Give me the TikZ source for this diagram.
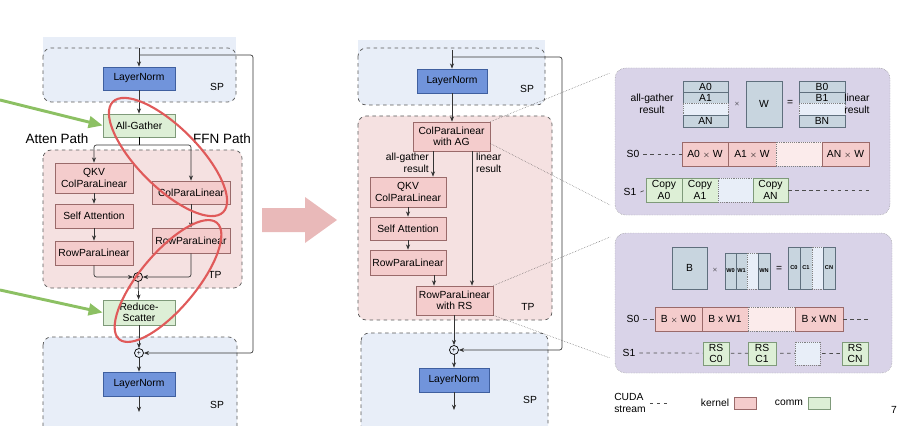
\documentclass[tikz,border=0pt]{standalone}
\usepackage{fontspec}
\setmainfont{Liberation Sans}
\usetikzlibrary{arrows.meta,positioning}
\newcommand{\px}{0.03cm}
\definecolor{lnfill}{HTML}{7194DB}
\definecolor{lnline}{HTML}{3F5F9F}
\definecolor{spfill}{HTML}{E8EEF8}
\definecolor{tpfill}{HTML}{F5E1E1}
\definecolor{kfill}{HTML}{F4CCCC}
\definecolor{kline}{HTML}{9A6A6A}
\definecolor{cfill}{HTML}{DDEFD6}
\definecolor{cline}{HTML}{7F9A7A}
\definecolor{mfill}{HTML}{C8D5DF}
\definecolor{mline}{HTML}{5F6F7D}
\definecolor{pfill}{HTML}{D9D3E8}
\definecolor{redring}{HTML}{E05A5A}
\definecolor{greenarr}{HTML}{8CC063}
\definecolor{bigarr}{HTML}{E9B9B9}
\tikzset{
  box/.style 2 args={draw, line width=0.6pt, inner sep=0pt, align=center, minimum width=#1*\px, minimum height=#2*\px},
  ln/.style 2 args={box={#1}{#2}, fill=lnfill, draw=lnline},
  kern/.style 2 args={box={#1}{#2}, fill=kfill, draw=kline},
  comm/.style 2 args={box={#1}{#2}, fill=cfill, draw=cline},
  mat/.style 2 args={box={#1}{#2}, fill=mfill, draw=mline},
  kgap/.style 2 args={box={#1}{#2}, fill=kfill!40, draw=gray, densely dotted},
  cgap/.style 2 args={box={#1}{#2}, fill=spfill, draw=gray, densely dotted},
  plus/.style={draw, line width=0.6pt, circle, inner sep=0pt, minimum size=9*\px, font=\fontsize{6}{6}\selectfont},
  region/.style={draw=gray!70!black, line width=0.6pt, dashed, rounded corners=7pt},
  panel/.style={draw=gray, densely dotted, fill=pfill, rounded corners=9pt, minimum width=#1*\px},
  flow/.style={-{Stealth[length=4.5pt,width=3.5pt]}, line width=0.6pt, draw=black!80},
  stream/.style={dashed, line width=0.6pt, draw=black!70},
  ring/.style={draw=redring, line width=1.8pt},
  tiny/.style={font=\fontsize{4.8}{5}\selectfont\bfseries}
}
\begin{document}
\begin{tikzpicture}[x=\px, y=-\px, font=\fontsize{8.8}{9.8}\selectfont]
  \useasboundingbox (0,0) rectangle (898,426);

  % left: regions
  \fill[spfill] (43,37) rectangle (236,96);
  \filldraw[region, fill=spfill] (43,48) rectangle (236,102);
  \filldraw[region, fill=tpfill] (43,150) rectangle (242,288);
  \filldraw[region, fill=spfill] (43,337) rectangle (237,440);
  \node at (217,87) {SP};
  \node at (215,275) {TP};
  \node at (217,405) {SP};

  % left: blocks
  \node[ln={72}{23}] (ln1) at (139,78.5) {LayerNorm};
  \node[comm={72}{23}] (ag) at (139,125.5) {All-Gather};
  \node[kern={78}{30}] (qkv) at (94,178) {QKV\\ColParaLinear};
  \node[kern={78}{24}] (sa) at (94,216) {Self Attention};
  \node[kern={78}{24}] (rpl1) at (94,253) {RowParaLinear};
  \node[kern={78}{23}] (cpl) at (191,192.5) {ColParaLinear};
  \node[kern={78}{25}] (rpl2) at (191,240.5) {RowParaLinear};
  \node[plus, fill=kfill] (p1) at (138,277) {+};
  \node[comm={72}{25}] (rs) at (139,312.5) {Reduce-\\Scatter};
  \node[plus, fill=spfill] (p2) at (139,353) {+};
  \node[ln={72}{24}] (ln2) at (139,384) {LayerNorm};
  \node[font=\fontsize{11.5}{12}\selectfont] (atten) at (57,139) {Atten Path};
  \node[font=\fontsize{11.5}{12}\selectfont] (ffn) at (222,139) {FFN Path};
  \coordinate (in1) at (139,48);
  \coordinate (res1) at (139,55);
  \coordinate (side1) at (253,200);
  \coordinate (br) at (139,145);
  \coordinate (out1) at (139,412);

  % left: connectors
  \draw[flow] (in1) -- (ln1);
  \draw[flow, rounded corners=2] (res1) -| (side1) |- (p2.east);
  \draw[flow] (ln1) -- (ag);
  \draw[line width=0.6pt] (ag) -- (br);
  \draw[flow, rounded corners=2] (br) -| (qkv.north);
  \draw[flow, rounded corners=2] (br) -| (cpl.north);
  \draw[flow] (qkv) -- (sa);
  \draw[flow] (sa) -- (rpl1);
  \draw[flow] (cpl) -- (rpl2);
  \draw[flow, rounded corners=2] (rpl1.south) |- (p1.west);
  \draw[flow, rounded corners=2] (rpl2.south) |- (p1.east);
  \draw[flow] (p1) -- (rs);
  \draw[flow] (rs) -- (p2);
  \draw[flow] (p2) -- (ln2);
  \draw[flow] (ln2) -- (out1);

  % left: highlights
  \draw[ring, rotate around={-45:(168,157)}] (168,157) ellipse (78 and 30);
  \draw[ring, rotate around={50:(168,281)}] (168,281) ellipse (76 and 28);
  \coordinate (g1) at (0,100);
  \coordinate (g2) at (0,290);
  \draw[greenarr, line width=2.5pt, -{Triangle[length=12pt,width=10pt]}] (g1) -- (ag.west);
  \draw[greenarr, line width=2.5pt, -{Triangle[length=12pt,width=10pt]}] (g2) -- (rs.west);

  % big arrow
  \fill[bigarr] (262,208) -- (305,208) -- (305,197) -- (337,220) -- (305,243) -- (305,232) -- (262,232) -- cycle;

  % middle: regions
  \fill[spfill] (358,40) rectangle (545,96);
  \filldraw[region, fill=spfill] (358,48) rectangle (545,105);
  \filldraw[region, fill=tpfill] (358,116) rectangle (552,320);
  \filldraw[region, fill=spfill] (361,333) rectangle (548,440);
  \node at (527,89) {SP};
  \node at (528,307) {TP};
  \node at (530,400) {SP};

  % middle: blocks
  \node[ln={70}{24}] (ln3) at (452,81) {LayerNorm};
  \node[kern={77}{29}] (cag) at (451.5,136.5) {ColParaLinear\\with AG};
  \node[kern={76}{30}] (qkv2) at (408,192) {QKV\\ColParaLinear};
  \node[kern={76}{23}] (sa2) at (408,228.5) {Self Attention};
  \node[kern={76}{25}] (rpl3) at (408,262.5) {RowParaLinear};
  \node[kern={77}{29}] (rrs) at (454.5,300.5) {RowParaLinear\\with RS};
  \node[plus, fill=spfill] (p3) at (454,350) {+};
  \node[ln={70}{24}] (ln4) at (454,380) {LayerNorm};
  \node[align=right, anchor=east] (agres) at (433,163) {all-gather\\result};
  \node[align=left, anchor=west] (linres) at (472,163) {linear\\result};
  \coordinate (in2) at (452,50);
  \coordinate (res2) at (452,57);
  \coordinate (side2) at (562,200);
  \coordinate (out2) at (454,410);

  % middle: connectors
  \draw[flow] (in2) -- (ln3);
  \draw[flow, rounded corners=2] (res2) -| (side2) |- (p3.east);
  \draw[flow] (ln3) -- (cag.north -| ln3);
  \draw[flow] (cag.south -| 433,0) -- (qkv2.north -| 433,0);
  \draw[flow] (cag.south -| 472,0) -- (rrs.north -| 472,0);
  \draw[flow] (qkv2) -- (sa2);
  \draw[flow] (sa2) -- (rpl3);
  \draw[flow] (rpl3.south -| 434,0) -- (rrs.north -| 434,0);
  \draw[flow] (rrs.south -| p3) -- (p3);
  \draw[flow] (p3) -- (ln4);
  \draw[flow] (ln4) -- (out2);

  % right: panels
  \node[panel=275, minimum height=147*\px] (pa) at (752.5,141.5) {};
  \node[panel=277, minimum height=140*\px] (pb) at (753.5,303) {};
  \draw[densely dotted, gray!60!black] (cag.north east) -- (610,73);
  \draw[densely dotted, gray!60!black] (cag.east) ++(0,7) -- (610,205);
  \draw[densely dotted, gray!60!black] (rrs.north east) -- (610,237);
  \draw[densely dotted, gray!60!black] (rrs.south east) -- (610,358);

  % right top: all-gather + linear
  \node[mat={45}{11}] (a0) at (705.5,86.5) {A0};
  \node[mat={45}{11}] (a1) at (705.5,97.5) {A1};
  \node[cgap={45}{12}] (ax) at (705.5,109) {};
  \node[mat={45}{12}] (an) at (705.5,121) {AN};
  \node[mat={36}{46}] (w) at (764,104) {W};
  \node[mat={46}{11}] (b0) at (822,86.5) {B0};
  \node[mat={46}{11}] (b1) at (822,97.5) {B1};
  \node[cgap={46}{12}] (bx) at (822,109) {};
  \node[mat={46}{12}] (bn) at (822,121) {BN};
  \node (times1) at (737,104) {\tiny$\times$};
  \node (eq1) at (790,103) {=};
  \node[align=center] (agr) at (652,104) {all-gather\\result};
  \node[align=center] (lir) at (857,104) {linear\\result};
  \node (s0a) at (633,154) {S0};
  \node[kern={46}{24}] (k0) at (705,154) {A0 {\scriptsize$\times$} W};
  \node[kern={48}{24}] (k1) at (752,154) {A1 {\scriptsize$\times$} W};
  \node[kgap={46}{24}] (kx) at (799,154) {};
  \node[kern={47}{24}] (kn) at (845.5,154) {AN {\scriptsize$\times$} W};
  \draw[stream] (s0a.east) -- (k0.west);
  \node (s1a) at (630,192) {S1};
  \node[comm={36}{24}] (c0) at (664,190) {Copy\\A0};
  \node[comm={36}{24}] (c1) at (700,190) {Copy\\A1};
  \node[cgap={35}{24}] (cx) at (735.5,190) {};
  \node[comm={35}{24}] (cn) at (770.5,190) {Copy\\AN};
  \coordinate (s1aend) at (870,190);
  \draw[stream] (s1a.east) -- (c0.west);
  \draw[stream] (cn.east) -- (s1aend);

  % right bottom: linear + reduce-scatter
  \node[mat={35}{42}] (bb) at (689.5,268) {B};
  \node (times2) at (715,270) {\tiny$\times$};
  \node[mat={11}{36}, tiny] (w0) at (730.5,271) {W0};
  \node[mat={11}{36}, tiny] (w1) at (741.5,271) {W1};
  \node[cgap={11}{36}] (wx) at (752.5,271) {};
  \node[mat={12}{36}, tiny] (wn) at (764,271) {WN};
  \node (eq2) at (779,269) {=};
  \node[mat={12}{42}, tiny] (cc0) at (794,268) {C0};
  \node[mat={12}{42}, tiny] (cc1) at (806,268) {C1};
  \node[cgap={11}{42}] (ccx) at (817.5,268) {};
  \node[mat={12}{42}, tiny] (ccn) at (829,268) {CN};
  \node (s0b) at (633,319) {S0};
  \node[kern={47}{24}] (m0) at (678.5,319) {B {\scriptsize$\times$} W0};
  \node[kern={46}{24}] (m1) at (725,319) {B x W1};
  \node[kgap={47}{24}] (mx) at (771.5,319) {};
  \node[kern={48}{24}] (mn) at (819,319) {B x WN};
  \coordinate (s0bend) at (868,319);
  \draw[stream] (s0b.east) -- (m0.west);
  \draw[stream] (mn.east) -- (s0bend);
  \node (s1b) at (629,353) {S1};
  \coordinate (s1bend) at (870,353.5);
  \draw[stream] (s1b.east) -- (s1bend);
  \node[comm={26}{23}] (r0) at (716,353.5) {RS\\C0};
  \node[comm={28}{23}] (r1) at (762,353.5) {RS\\C1};
  \node[cgap={25}{23}] (rx) at (807.5,353.5) {};
  \node[comm={26}{23}] (rn) at (855,353.5) {RS\\CN};

  % legend
  \node[align=left] (cuda) at (630,403) {CUDA\\stream};
  \coordinate (cudaend) at (670,403);
  \draw[stream] (cuda.east) -- (cudaend);
  \node (kl) at (715,403) {kernel};
  \node[kern={22}{12}, right=1pt of kl] (kb) {};
  \node (cl) at (789,403) {comm};
  \node[comm={22}{12}, right=1pt of cl] (cb) {};
  \node (pg) at (894,410) {7};
\end{tikzpicture}
\end{document}
